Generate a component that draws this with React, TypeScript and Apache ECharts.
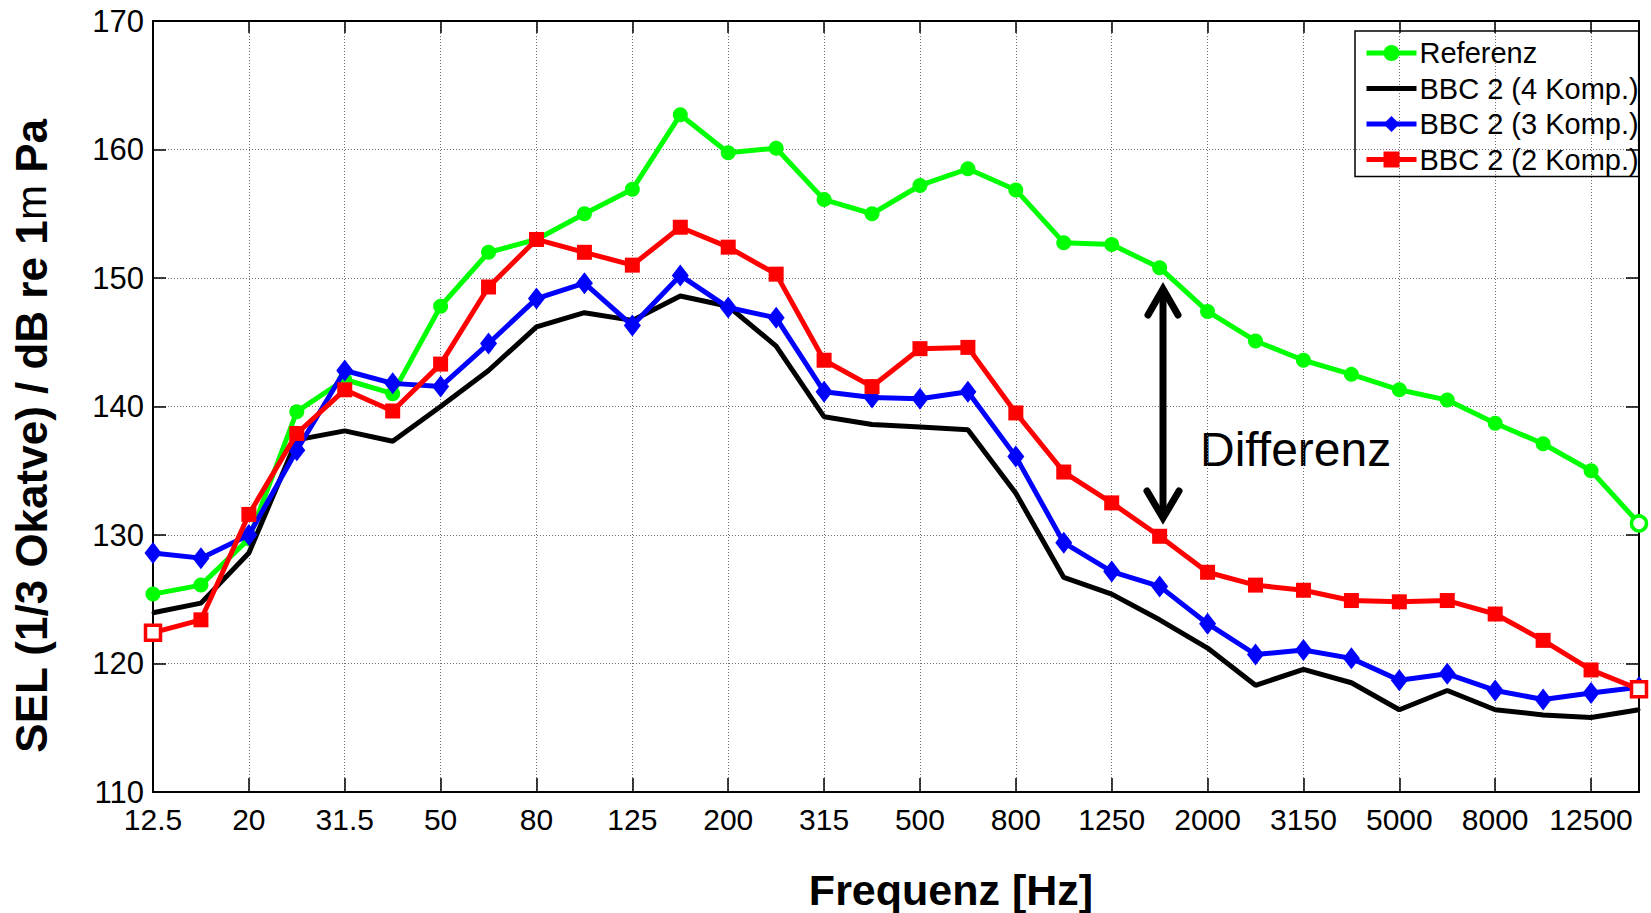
import React, { useEffect, useRef } from "react";
import * as echarts from "echarts";

const freqs = ["12.5","16","20","25","31.5","40","50","63","80","100","125","160","200","250","315","400","500","630","800","1000","1250","1600","2000","2500","3150","4000","5000","6300","8000","10000","12500","16000"];

const referenz = [125.4,126.1,129.7,139.6,142.1,141.0,147.8,152.0,153.0,155.0,156.9,162.7,159.75,160.1,156.1,155.0,157.2,158.5,156.85,152.75,152.6,150.8,147.4,145.1,143.6,142.5,141.3,140.5,138.7,137.1,135.0,130.9];
const bbc4 = [123.95,124.7,128.6,137.4,138.1,137.3,140.0,142.8,146.2,147.3,146.7,148.6,147.8,144.7,139.2,138.6,138.4,138.2,133.25,126.7,125.4,123.4,121.2,118.3,119.55,118.5,116.4,117.9,116.4,116.0,115.8,116.4];
const bbc3 = [128.6,128.2,130.0,136.6,142.8,141.8,141.55,144.9,148.4,149.6,146.3,150.2,147.7,146.9,141.15,140.7,140.6,141.15,136.1,129.4,127.15,126.0,123.1,120.7,121.05,120.4,118.7,119.2,117.9,117.2,117.7,118.15];
const bbc2 = [122.4,123.4,131.6,137.9,141.3,139.65,143.3,149.3,153.0,152.0,151.0,153.95,152.4,150.3,143.6,141.55,144.5,144.6,139.5,134.9,132.5,129.9,127.1,126.1,125.7,124.9,124.8,124.9,123.85,121.8,119.5,118.0];

const seriesNames = ["Referenz", "BBC 2 (4 Komp.)", "BBC 2 (3 Komp.)", "BBC 2 (2 Komp.)"];
const hollowRef = [31];
const hollowRed = [0, 31];

const yMin = 110;
const yMax = 170;
const yStep = 10;

const FONT = "'Liberation Sans', Arial, Helvetica, sans-serif";

export default function App() {
  const ref = useRef<HTMLDivElement>(null);
  useEffect(() => {
    if (!ref.current) return;
    const chart = echarts.init(ref.current, undefined, { renderer: "svg" });
    const hollow = (arr: number[], idx: number[], color: string) =>
      arr.map((v, i) =>
        idx.includes(i)
          ? { value: v, itemStyle: { color: "#ffffff", borderColor: color, borderWidth: 3.5 } }
          : v
      );
    const gridLine = { show: true, lineStyle: { color: "#6e6e6e", type: [1, 2], width: 1 } };
    const option: any = {
      animation: false,
      backgroundColor: "#ffffff",
      grid: { left: 153, right: 12, top: 21, bottom: 121, containLabel: false },
      legend: {
        orient: "vertical",
        left: 1355,
        top: 31,
        data: [
          { name: seriesNames[0] },
          { name: seriesNames[1], itemStyle: { opacity: 0 } },
          { name: seriesNames[2] },
          { name: seriesNames[3] },
        ],
        itemWidth: 50,
        itemHeight: 20,
        itemGap: 5.5,
        padding: [7, 0, 2, 9],
        borderColor: "#000",
        borderWidth: 1.5,
        lineStyle: { width: 5 },
        textStyle: { fontFamily: FONT, fontSize: 29, color: "#000", lineHeight: 30, padding: [0, 0, 0, -2] },
      },
      xAxis: [
        {
          type: "category",
          data: freqs,
          boundaryGap: false,
          axisLine: { show: true, lineStyle: { color: "#000", width: 2 } },
          axisTick: { show: true, inside: true, interval: 1, length: 14, lineStyle: { color: "#000", width: 1.5 } },
          axisLabel: { interval: 1, margin: 12, fontFamily: FONT, fontSize: 30, color: "#000" },
          splitLine: { ...gridLine, interval: 1 },
        },
        {
          type: "category",
          data: freqs,
          boundaryGap: false,
          position: "top",
          axisLine: { show: true, lineStyle: { color: "#000", width: 2 } },
          axisTick: { show: true, inside: true, interval: 1, length: 12, lineStyle: { color: "#000", width: 1.5 } },
          axisLabel: { show: false },
          splitLine: { show: false },
        },
      ],
      yAxis: [
        {
          type: "value",
          min: yMin,
          max: yMax,
          interval: yStep,
          axisLine: { show: true, lineStyle: { color: "#000", width: 2 } },
          axisTick: { show: true, inside: true, length: 13, lineStyle: { color: "#000", width: 1.5 } },
          axisLabel: { margin: 9, fontFamily: FONT, fontSize: 31, color: "#000" },
          splitLine: gridLine,
        },
        {
          type: "value",
          min: yMin,
          max: yMax,
          interval: yStep,
          position: "right",
          axisLine: { show: true, lineStyle: { color: "#000", width: 2 } },
          axisTick: { show: true, inside: true, length: 13, lineStyle: { color: "#000", width: 1.5 } },
          axisLabel: { show: false },
          splitLine: { show: false },
        },
      ],
      series: [
        {
          name: seriesNames[0],
          type: "line",
          data: hollow(referenz, hollowRef, "#00ff00"),
          symbol: "circle",
          symbolSize: 15,
          lineStyle: { color: "#00ff00", width: 5 },
          itemStyle: { color: "#00ff00" },
          z: 2,
        },
        {
          name: seriesNames[1],
          type: "line",
          data: bbc4,
          symbol: "circle",
          symbolSize: 3,
          lineStyle: { color: "#000000", width: 5 },
          itemStyle: { color: "#000000" },
          z: 3,
        },
        {
          name: seriesNames[2],
          type: "line",
          data: bbc3,
          symbol: "diamond",
          symbolSize: [17, 22],
          lineStyle: { color: "#0000ff", width: 5 },
          itemStyle: { color: "#0000ff" },
          z: 4,
        },
        {
          name: seriesNames[3],
          type: "line",
          data: hollow(bbc2, hollowRed, "#ff0000"),
          symbol: "rect",
          symbolSize: 15,
          lineStyle: { color: "#ff0000", width: 5 },
          itemStyle: { color: "#ff0000" },
          z: 5,
        },
      ],
      graphic: [
        {
          type: "text",
          x: 31,
          y: 436,
          rotation: Math.PI / 2,
          style: {
            text: "{b|SEL (1/3 Okatve) / dB re 1}{m|m}{b| Pa}",
            rich: {
              b: { fontFamily: FONT, fontSize: 44, fontWeight: "bold", fill: "#000" },
              m: { fontFamily: FONT, fontSize: 42, fontWeight: "normal", fill: "#000" },
            },
            textAlign: "center",
            textVerticalAlign: "middle",
          },
        },
        {
          type: "text",
          x: 951,
          y: 890,
          style: {
            text: "Frequenz [Hz]",
            fontFamily: FONT,
            fontSize: 43,
            fontWeight: "bold",
            fill: "#000",
            textAlign: "center",
            textVerticalAlign: "middle",
          },
        },
        {
          type: "text",
          x: 1200,
          y: 449,
          style: {
            text: "Differenz",
            fontFamily: FONT,
            fontSize: 48,
            fill: "#000",
            textAlign: "left",
            textVerticalAlign: "middle",
          },
        },
        {
          type: "line",
          shape: { x1: 1163, y1: 292, x2: 1163, y2: 515 },
          style: { stroke: "#000", lineWidth: 7, lineCap: "round" },
          z: 10,
        },
        {
          type: "polyline",
          shape: { points: [[1148, 315], [1163, 289], [1178, 315]] },
          style: { stroke: "#000", lineWidth: 7, fill: null, lineCap: "round", lineJoin: "miter" },
          z: 10,
        },
        {
          type: "polyline",
          shape: { points: [[1147, 491], [1163, 518], [1179, 491]] },
          style: { stroke: "#000", lineWidth: 7, fill: null, lineCap: "round", lineJoin: "miter" },
          z: 10,
        },
      ],
    };
    chart.setOption(option);
    return () => chart.dispose();
  }, []);
  return (
    <div
      ref={ref}
      style={{ position: "absolute", left: 0, top: 0, width: 1651, height: 913, background: "#fff" }}
    />
  );
}
